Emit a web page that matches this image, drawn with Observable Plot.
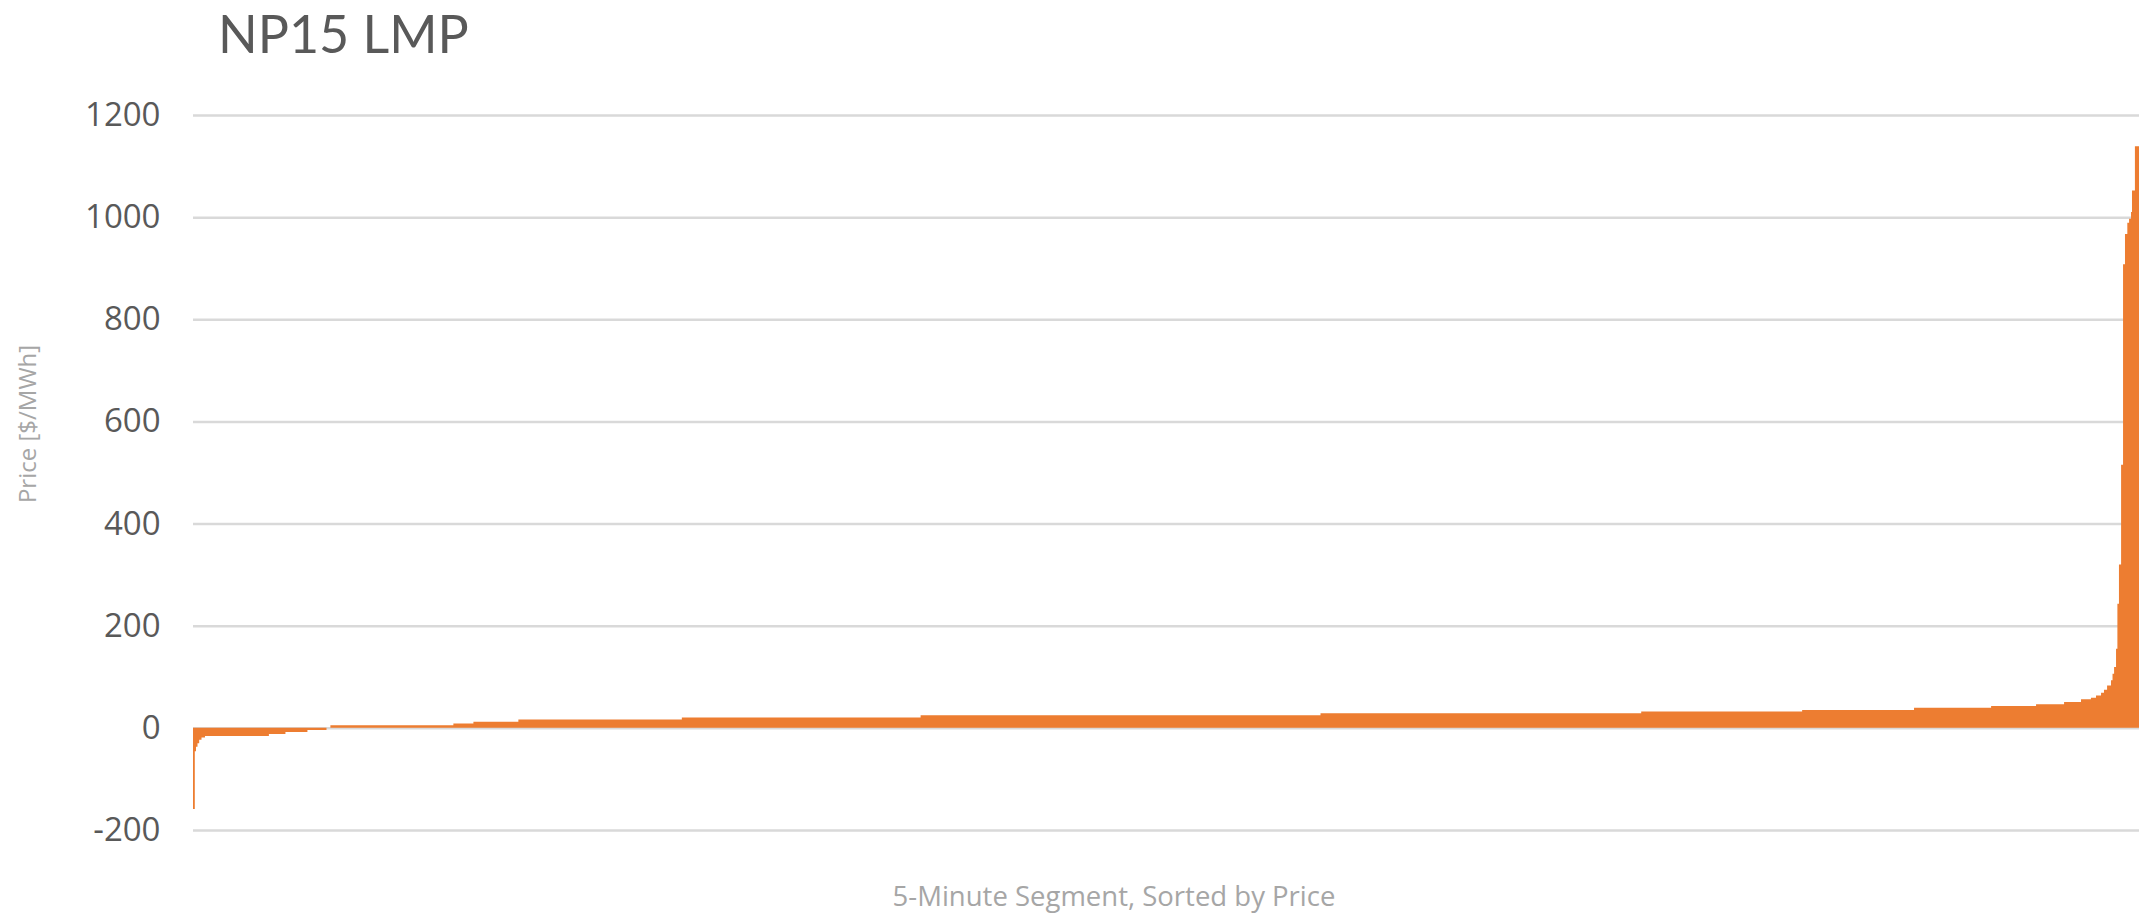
<!DOCTYPE html>
<html>
<head>
<meta charset="utf-8">
<script src="https://cdn.jsdelivr.net/npm/d3@7"></script>
<script src="https://cdn.jsdelivr.net/npm/@observablehq/plot@0.6"></script>
<style>
  html, body { margin: 0; padding: 0; background: #ffffff; overflow: hidden; }
  #chart { position: relative; width: 2141px; height: 915px; }
</style>
</head>
<body>
<div id="chart"></div>
<script>
// Sorted 5-minute segments: each entry starts a step (rank in % of all segments) and holds its price [$/MWh]
const segRank = [0, 0.092, 0.154, 0.231, 0.318, 0.437, 0.616, 3.90, 4.75, 5.88, 6.86, 7.06, 13.38, 14.41, 16.72,
  25.12, 37.39, 57.94, 74.42, 82.69, 88.44, 92.40, 94.71, 96.15, 97.02, 97.53, 97.79, 98.05, 98.20, 98.36,
  98.56, 98.64, 98.72, 98.82, 98.89, 98.97, 99.08, 99.18, 99.28, 99.40, 99.49, 99.59, 99.64, 99.79, 99.91];
const segPrice = [-159, -46, -37, -30, -23.5, -19, -16, -12, -8, -4, 0, 5, 8.5, 12, 16.5,
  20.5, 24.8, 28.7, 32, 35, 39.6, 43, 46, 50.6, 55.8, 59, 63.6, 68.8, 74.7, 83,
  93, 106, 119, 155, 243, 320, 515, 908, 967, 989, 997, 1010, 1052, 1139];
const rankTotal = 100;
const yTicks = [-200, 0, 200, 400, 600, 800, 1000, 1200];

const title = "NP15 LMP";
const xTitle = "5-Minute Segment, Sorted by Price";
const yTitle = "Price [$/MWh]";

const steps = segPrice.map((p, i) => ({rank: segRank[i], price: p}));
steps.push({rank: rankTotal, price: segPrice[segPrice.length - 1]});

const font = "'Open Sans', 'Noto Sans', sans-serif";

const svg = Plot.plot({
  width: 2141,
  height: 915,
  marginLeft: 193,
  marginRight: 2,
  marginTop: 115,
  marginBottom: 85,
  style: {fontFamily: font, fontSize: "33px", color: "#595959", background: "#ffffff"},
  x: {domain: [0, rankTotal], axis: null},
  y: {domain: [-200, 1200]},
  marks: [
    Plot.ruleY(yTicks, {stroke: "#d9d9d9", strokeWidth: 2.5}),
    Plot.areaY(steps, {x: "rank", y: "price", curve: "step-after", fill: "#ed7d31"}),
    Plot.axisY(yTicks, {tickSize: 0, tickPadding: 33, tickFormat: d => String(d), label: null, fontSize: 33, fill: "#595959"})
  ]
});

const s = d3.select(svg);
s.append("text").attr("x", 218).attr("y", 53).attr("text-anchor", "start")
  .attr("font-family", "Lato, 'Open Sans', sans-serif").attr("font-size", 52).attr("fill", "#595959")
  .text(title);
s.append("text").attr("x", 1114).attr("y", 906).attr("text-anchor", "middle")
  .attr("font-family", font).attr("font-size", 27.5).attr("fill", "#a6a6a6")
  .text(xTitle);
s.append("text").attr("transform", "translate(36,424) rotate(-90)").attr("text-anchor", "middle")
  .attr("font-family", font).attr("font-size", 24).attr("fill", "#a6a6a6")
  .text(yTitle);

document.getElementById("chart").appendChild(svg);
</script>
</body>
</html>
